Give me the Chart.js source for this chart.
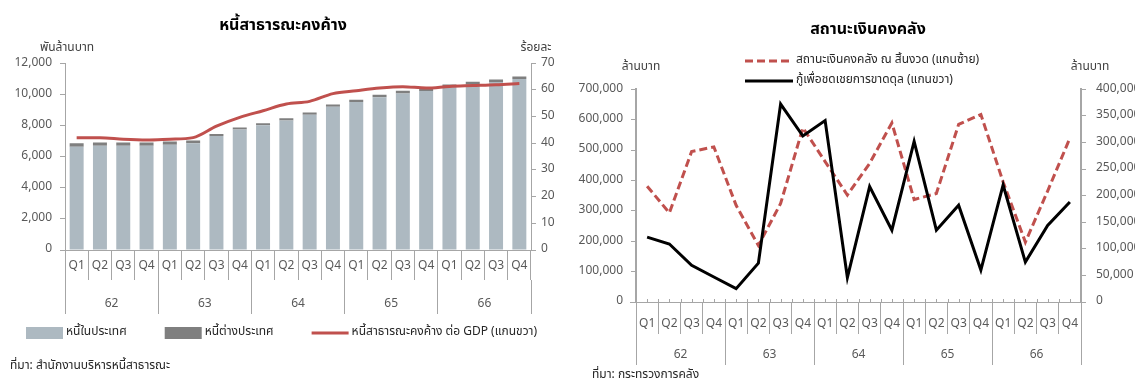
<!DOCTYPE html>
<html>
<head>
<meta charset="utf-8">
<script src="https://cdn.jsdelivr.net/npm/chart.js@4.4.1/dist/chart.umd.min.js"></script>
<style>
  html, body { margin: 0; padding: 0; background: #fff; overflow: hidden; }
  #wrap { position: relative; width: 1135px; height: 390px; overflow: hidden; }
  #debtBox { position: absolute; left: 0; top: 0; width: 566px; height: 390px; }
  #cashBox { position: absolute; left: 570px; top: 0; width: 596px; height: 390px; }
</style>
</head>
<body>
<div id="wrap">
  <div id="debtBox"><canvas id="debtChart"></canvas></div>
  <div id="cashBox"><canvas id="cashChart"></canvas></div>
</div>
<script>
const quarters = ['Q1', 'Q2', 'Q3', 'Q4', 'Q1', 'Q2', 'Q3', 'Q4', 'Q1', 'Q2', 'Q3', 'Q4',
                  'Q1', 'Q2', 'Q3', 'Q4', 'Q1', 'Q2', 'Q3', 'Q4'];
const years = ['62', '63', '64', '65', '66'];

// left chart: public debt (billion baht) and debt/GDP (%)
const domesticDebt = [6640, 6700, 6700, 6700, 6765, 6850, 7325, 7735, 8015, 8315,
                      8685, 9200, 9500, 9805, 10060, 10210, 10495, 10660, 10800, 10990];
const foreignDebt = [210, 210, 205, 205, 210, 180, 130, 130, 130, 150,
                     150, 150, 155, 170, 175, 155, 130, 155, 150, 150];
const debtToGdp = [42.1, 42.1, 41.5, 41.2, 41.5, 42.1, 46.4, 49.7, 52.2, 54.7,
                   55.7, 58.6, 59.7, 60.7, 61.2, 60.7, 61.3, 61.6, 61.9, 62.4];

// right chart: treasury balance and deficit borrowing (million baht)
const treasuryBalance = [381000, 293000, 495000, 510000, 318000, 186000, 324000, 573000, 462000, 352000,
                         456000, 589000, 337000, 357000, 584000, 617000, 395000, 197000, 365000, 539000];
const deficitBorrowing = [122000, 109000, 69000, 47000, 25000, 73000, 372000, 312000, 341000, 46000,
                          217000, 135000, 302000, 135000, 182000, 60000, 220000, 75000, 144000, 188000];

const fontFamily = 'Tahoma, "Noto Sans Thai", "Liberation Sans", "Noto Sans", sans-serif';
const textColor = '#595959';
const axisColor = '#a6a6a6';

Chart.defaults.font.family = fontFamily;
Chart.defaults.font.size = 12;
Chart.defaults.color = textColor;

const fmt = v => v.toLocaleString('en-US');

// unit labels, legend, source note and small axis ticks
const annotate = {
    id: 'annotate',
    afterDraw(chart, args, opts) {
        const ctx = chart.ctx;
        const area = chart.chartArea;
        ctx.save();

        if (opts.innerTick) {
            const xs = chart.scales.x;
            const half = (xs.getPixelForValue(1) - xs.getPixelForValue(0)) / 2;
            ctx.strokeStyle = axisColor;
            ctx.lineWidth = 1;
            ctx.beginPath();
            for (let i = 0; i < quarters.length; i++) {
                const c = xs.getPixelForValue(i);
                [c - half, c, c + half].forEach(px => {
                    ctx.moveTo(Math.round(px) + 0.5, area.bottom);
                    ctx.lineTo(Math.round(px) + 0.5, area.bottom - opts.innerTick);
                });
            }
            ctx.moveTo(area.left - 6, area.bottom + 0.5);
            ctx.lineTo(area.left, area.bottom + 0.5);
            ctx.stroke();
        }

        ctx.font = '12px ' + fontFamily;
        ctx.textBaseline = 'middle';
        ctx.textAlign = 'center';
        ctx.fillStyle = '#404040';
        ctx.fillText(opts.leftUnit, area.left + opts.leftUnitDx, area.top + opts.unitDy);
        ctx.fillText(opts.rightUnit, area.right + opts.rightUnitDx, area.top + opts.unitDy);

        ctx.textAlign = 'left';
        let x = opts.legendX;
        let y = opts.legendY;
        chart.data.datasets.forEach(ds => {
            if (ds.type === 'line') {
                ctx.strokeStyle = ds.borderColor;
                ctx.lineWidth = ds.borderWidth;
                ctx.setLineDash(ds.borderDash || []);
                ctx.beginPath();
                ctx.moveTo(x, y);
                ctx.lineTo(x + opts.sampleW, y);
                ctx.stroke();
                ctx.setLineDash([]);
            } else {
                ctx.fillStyle = ds.backgroundColor;
                ctx.fillRect(x, y - 6, opts.sampleW, 12);
            }
            ctx.fillStyle = '#262626';
            ctx.fillText(ds.label, x + opts.sampleW + 3, y);
            if (opts.stackedLegend) {
                y += opts.rowGap;
            } else {
                x += opts.sampleW + 3 + ctx.measureText(ds.label).width + opts.itemGap;
            }
        });

        ctx.fillStyle = '#262626';
        ctx.fillText(opts.source, opts.sourceX, opts.sourceY);
        ctx.restore();
    }
};

function quarterAxis(tickLen, labelPad) {
    return {
        type: 'category',
        labels: quarters,
        offset: true,
        stacked: true,
        grid: { offset: true, drawOnChartArea: false, tickLength: tickLen, color: axisColor },
        border: { color: axisColor },
        ticks: { padding: labelPad, maxRotation: 0, autoSkip: false, color: textColor },
        afterFit: s => { s.height = tickLen; }
    };
}

function yearAxis(tickLen, labelPad) {
    return {
        type: 'category',
        labels: years,
        position: 'bottom',
        offset: true,
        grid: { offset: true, drawOnChartArea: false, tickLength: tickLen, color: axisColor },
        border: { display: false },
        ticks: { padding: labelPad, maxRotation: 0, autoSkip: false, color: textColor },
        afterFit: s => { s.height = tickLen; }
    };
}

new Chart(document.getElementById('debtChart'), {
    type: 'bar',
    data: {
        labels: quarters,
        datasets: [
            {
                type: 'bar',
                label: 'หนี้ในประเทศ',
                data: domesticDebt,
                backgroundColor: '#adb9c1',
                stack: 'debt',
                order: 1,
                barPercentage: 0.6,
                categoryPercentage: 1
            },
            {
                type: 'bar',
                label: 'หนี้ต่างประเทศ',
                data: foreignDebt,
                backgroundColor: '#7f7f7f',
                stack: 'debt',
                order: 1,
                barPercentage: 0.6,
                categoryPercentage: 1
            },
            {
                type: 'line',
                label: 'หนี้สาธารณะคงค้าง ต่อ GDP (แกนขวา)',
                data: debtToGdp,
                yAxisID: 'y1',
                borderColor: '#c0504d',
                backgroundColor: '#c0504d',
                borderWidth: 3,
                pointRadius: 0,
                cubicInterpolationMode: 'monotone',
                order: 0
            }
        ]
    },
    options: {
        responsive: true,
        maintainAspectRatio: false,
        animation: false,
        devicePixelRatio: 1,
        layout: { padding: { left: 0, right: 0, top: 0, bottom: 76 } },
        plugins: {
            legend: { display: false },
            tooltip: { enabled: false },
            title: {
                display: true,
                text: 'หนี้สาธารณะคงค้าง',
                color: '#000',
                font: { size: 16, weight: 'bold' },
                padding: { top: 17, bottom: 27 }
            },
            annotate: {
                leftUnit: 'พันล้านบาท', rightUnit: 'ร้อยละ',
                leftUnitDx: 2, rightUnitDx: 5, unitDy: -15,
                legendX: 26, legendY: 333, sampleW: 37, itemGap: 38, stackedLegend: false,
                source: 'ที่มา: สำนักงานบริหารหนี้สาธารณะ', sourceX: 10, sourceY: 367
            }
        },
        scales: {
            x: quarterAxis(30, -21),
            x2: yearAxis(34, -17),
            y: {
                stacked: true,
                min: 0, max: 12000,
                ticks: { stepSize: 2000, callback: fmt, padding: 8 },
                grid: { drawOnChartArea: false, tickLength: 5, color: axisColor },
                border: { color: axisColor },
                afterFit: s => { s.width = 65; }
            },
            y1: {
                position: 'right',
                min: 0, max: 70,
                ticks: { stepSize: 10, padding: 5 },
                grid: { drawOnChartArea: false, tickLength: 5, color: axisColor },
                border: { color: axisColor },
                afterFit: s => { s.width = 35; }
            }
        }
    },
    plugins: [annotate]
});

new Chart(document.getElementById('cashChart'), {
    type: 'line',
    data: {
        labels: quarters,
        datasets: [
            {
                type: 'line',
                label: 'สถานะเงินคงคลัง ณ สิ้นงวด (แกนซ้าย)',
                data: treasuryBalance,
                yAxisID: 'y',
                borderColor: '#c0504d',
                borderWidth: 3,
                borderDash: [8, 4],
                pointRadius: 0,
                tension: 0,
                order: 1
            },
            {
                type: 'line',
                label: 'กู้เพื่อชดเชยการขาดดุล (แกนขวา)',
                data: deficitBorrowing,
                yAxisID: 'y1',
                borderColor: '#000000',
                borderWidth: 3,
                pointRadius: 0,
                tension: 0,
                order: 0
            }
        ]
    },
    options: {
        responsive: true,
        maintainAspectRatio: false,
        animation: false,
        devicePixelRatio: 1,
        layout: { padding: { left: 0, right: 0, top: 0, bottom: 25 } },
        plugins: {
            legend: { display: false },
            tooltip: { enabled: false },
            title: {
                display: true,
                text: 'สถานะเงินคงคลัง',
                color: '#000',
                font: { size: 16, weight: 'bold' },
                padding: { top: 21, bottom: 49 }
            },
            annotate: {
                innerTick: 3,
                leftUnit: 'ล้านบาท', rightUnit: 'ล้านบาท',
                leftUnitDx: 5, rightUnitDx: 9, unitDy: -22,
                legendX: 175, legendY: 61, sampleW: 48, rowGap: 20, stackedLegend: true,
                source: 'ที่มา: กระทรวงการคลัง', sourceX: 22, sourceY: 376
            }
        },
        scales: {
            x: quarterAxis(32, -17),
            x2: yearAxis(31, -17),
            y: {
                position: 'left',
                min: 0, max: 700000,
                ticks: { stepSize: 100000, callback: fmt, padding: 8 },
                grid: { drawOnChartArea: false, tickLength: 5, color: axisColor },
                border: { color: axisColor, width: 2 },
                afterFit: s => { s.width = 66; }
            },
            y1: {
                position: 'right',
                min: 0, max: 400000,
                ticks: { stepSize: 50000, callback: fmt, padding: 10 },
                grid: { drawOnChartArea: false, tickLength: 5, color: axisColor },
                border: { color: axisColor, width: 2 },
                afterFit: s => { s.width = 85; }
            }
        }
    },
    plugins: [annotate]
});
</script>
</body>
</html>
